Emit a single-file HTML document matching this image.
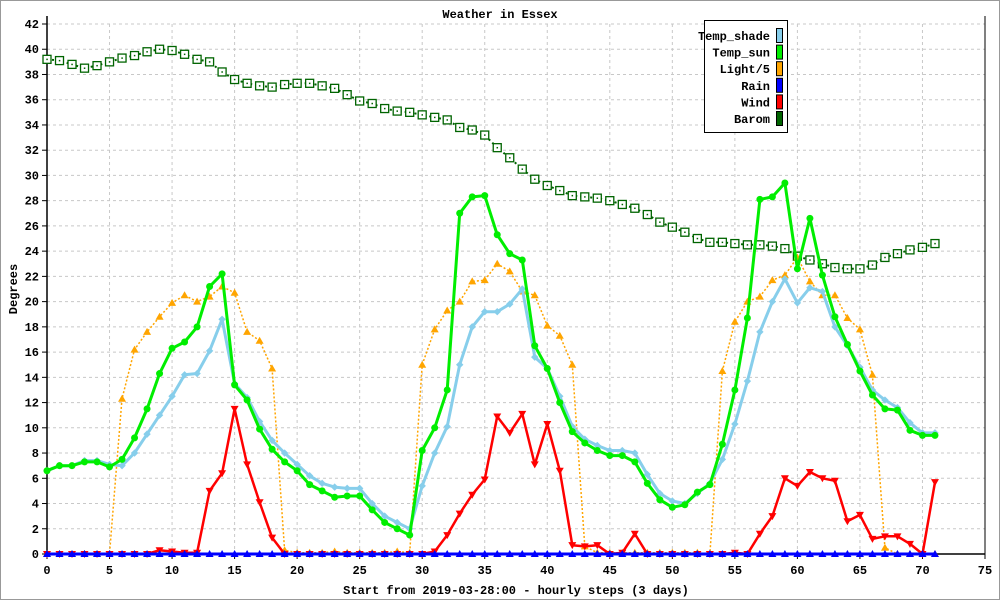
<!DOCTYPE html>
<html><head><meta charset="utf-8"><style>
html,body{margin:0;padding:0;background:#fff}
svg{display:block}
text{font-family:"Liberation Mono","DejaVu Sans Mono",monospace;font-size:12px;font-weight:bold;fill:#000}
</style></head><body>
<svg id="chart" width="1000" height="600">
<rect x="0.5" y="0.5" width="999" height="599" fill="#fff" stroke="#999"/>
<text x="500" y="18" text-anchor="middle" font-size="13">Weather in Essex</text>
<text transform="translate(17,289) rotate(-90)" text-anchor="middle">Degrees</text>
<text x="516" y="594" text-anchor="middle">Start from 2019-03-28:00 - hourly steps (3 days)</text>
<g id="grid"></g><g id="axes"></g><g id="series"></g>
<g>
<rect x="704.5" y="20.5" width="83" height="112" fill="#fff" stroke="#000"/>
<g id="legend"></g>
</g>
</svg>
<script>
const xTicks=[0,5,10,15,20,25,30,35,40,45,50,55,60,65,70,75];
const yTicks=[0,2,4,6,8,10,12,14,16,18,20,22,24,26,28,30,32,34,36,38,40,42];
const tempShade=[6.6,7.0,7.0,7.4,7.4,7.1,7.0,8.0,9.5,11.0,12.5,14.2,14.3,16.1,18.6,13.5,12.4,10.5,9.0,8.0,7.1,6.2,5.6,5.3,5.2,5.2,4.0,3.0,2.5,2.0,5.4,8.0,10.1,15.0,18.0,19.2,19.2,19.8,21.0,15.6,14.7,12.5,10.1,9.1,8.6,8.2,8.2,8.0,6.3,4.8,4.2,4.0,4.8,5.6,7.5,10.3,13.7,17.6,20.0,21.8,19.9,21.1,20.8,18.0,16.5,14.8,13.0,12.2,11.6,10.4,9.6,9.6];
const tempSun=[6.6,7.0,7.0,7.3,7.3,6.9,7.5,9.2,11.5,14.3,16.3,16.8,18.0,21.2,22.2,13.4,12.2,9.9,8.3,7.3,6.6,5.5,5.0,4.5,4.6,4.6,3.5,2.5,2.0,1.5,8.2,10.0,13.0,27.0,28.3,28.4,25.3,23.8,23.3,16.5,14.7,12.0,9.7,8.8,8.2,7.8,7.8,7.3,5.6,4.3,3.7,3.9,4.9,5.5,8.7,13.0,18.7,28.1,28.3,29.4,22.6,26.6,22.1,18.8,16.6,14.5,12.6,11.5,11.4,9.8,9.4,9.4];
const light5=[0,0,0,0,0,0,12.3,16.2,17.6,18.8,19.9,20.5,20.0,20.4,21.2,20.7,17.6,16.9,14.7,0.3,0.1,0.1,0.1,0.2,0.1,0.1,0.1,0.1,0.2,0.1,15.0,17.8,19.3,20.0,21.6,21.7,23.0,22.4,20.8,20.5,18.1,17.3,15.0,0.6,0.1,0.1,0.1,0.1,0.1,0.1,0.1,0.1,0.1,0,14.5,18.4,20.0,20.4,21.7,22.1,23.5,21.6,20.5,20.5,18.7,17.8,14.2,0.5,0,0,0,0];
const rain=new Array(72).fill(0);
const wind=[0,0,0,0,0,0,0,0,0,0.3,0.2,0.1,0.1,5.0,6.4,11.5,7.1,4.1,1.3,0,0,0,0,0,0,0,0,0,0,0,0,0.2,1.5,3.2,4.7,5.9,10.9,9.6,11.1,7.1,10.3,6.6,0.7,0.6,0.7,0,0.1,1.6,0,0,0,0,0,0,0,0.1,0,1.6,3.0,6.0,5.4,6.5,6.0,5.8,2.6,3.1,1.2,1.4,1.4,0.8,0,5.7];
const barom=[39.2,39.1,38.8,38.5,38.7,39.0,39.3,39.5,39.8,40.0,39.9,39.6,39.2,39.0,38.2,37.6,37.3,37.1,37.0,37.2,37.3,37.3,37.1,36.9,36.4,35.9,35.7,35.3,35.1,35.0,34.8,34.6,34.4,33.8,33.6,33.2,32.2,31.4,30.5,29.7,29.2,28.8,28.4,28.3,28.2,28.0,27.7,27.4,26.9,26.3,25.9,25.5,25.0,24.7,24.7,24.6,24.5,24.5,24.4,24.2,23.6,23.3,23.0,22.7,22.6,22.6,22.9,23.5,23.8,24.1,24.3,24.6];

const NS='http://www.w3.org/2000/svg';
const X0=47,X1=985,Y0=554,Y1=24;
const xs=v=>X0+(X1-X0)*v/75;
const ys=v=>Y0-(Y0-Y1)*v/42;
function mk(tag,attrs,parent){const e=document.createElementNS(NS,tag);for(const k in attrs)e.setAttribute(k,attrs[k]);parent.appendChild(e);return e;}
const grid=document.getElementById('grid'),axes=document.getElementById('axes'),ser=document.getElementById('series'),leg=document.getElementById('legend');
yTicks.forEach(t=>{
  if(t>0){const l=mk('line',{x1:X0,x2:X1,y1:ys(t),y2:ys(t),stroke:'#c8c8c8','stroke-dasharray':'3,3'},grid);
  
  }
  mk('line',{x1:X0-5,x2:X0,y1:ys(t),y2:ys(t),stroke:'#000'},axes);
  const tx=mk('text',{x:X0-8,y:ys(t)+4,'text-anchor':'end'},axes);tx.textContent=t;
  
  
});
xTicks.forEach(t=>{
  if(t>0&&t<75){const l=mk('line',{x1:xs(t),x2:xs(t),y1:Y1,y2:Y0,stroke:'#c8c8c8','stroke-dasharray':'3,3'},grid);
  
  }
  mk('line',{x1:xs(t),x2:xs(t),y1:Y0,y2:Y0+5,stroke:'#000'},axes);
  const tx=mk('text',{x:xs(t),y:Y0+20,'text-anchor':'middle'},axes);tx.textContent=t;
  
  
});
mk('line',{x1:X0,x2:X0,y1:Y1-8,y2:Y0,stroke:'#000','stroke-width':1.5},axes);
mk('line',{x1:X0,x2:X1,y1:Y0,y2:Y0,stroke:'#000','stroke-width':1.5},axes);
mk('line',{x1:X1,x2:X1,y1:Y1-8,y2:Y0,stroke:'#000'},axes);

function marker(g,type,x,y,c){
  if(type==='circle')mk('circle',{cx:x,cy:y,r:3.5,fill:c},g);
  else if(type==='diamond')mk('path',{d:`M${x-3},${y}L${x},${y-3}L${x+3},${y}L${x},${y+3}Z`,fill:c,stroke:c},g);
  else if(type==='up')mk('path',{d:`M${x-4},${y+3}L${x},${y-4}L${x+4},${y+3}Z`,fill:c},g);
  else if(type==='down')mk('path',{d:`M${x-4},${y-3}L${x},${y+4}L${x+4},${y-3}Z`,fill:c},g);
  else if(type==='square'){mk('rect',{x:x-4,y:y-4,width:8,height:8,fill:'#fff',stroke:c,'stroke-width':1.3},g);mk('rect',{x:x-0.7,y:y-0.7,width:1.5,height:1.5,fill:c},g);}
}
function series(name,data,color,width,dash,type){
  const g=mk('g',{},ser);
  
  
  const pts=data.map((v,i)=>xs(i).toFixed(1)+','+ys(v).toFixed(1)).join(' ');
  const a={points:pts,fill:'none',stroke:color,'stroke-width':width,'stroke-linejoin':'round'};if(dash)a['stroke-dasharray']=dash;
  mk('polyline',a,g);
  data.forEach((v,i)=>marker(g,type,xs(i),ys(v),color));
}
series('series-barom',barom,'#006400',2,'2,3','square');
series('series-light',light5,'#FFA500',1.5,'2,2','up');
series('series-temp-shade',tempShade,'#87CEEB',3,null,'diamond');
series('series-temp-sun',tempSun,'#00EE00',3,null,'circle');
series('series-wind',wind,'#FF0000',2.5,null,'down');
series('series-rain',rain,'#0000FF',3,null,'up');

const legItems=[['Temp_shade','#87CEEB'],['Temp_sun','#00EE00'],['Light/5','#FFA500'],['Rain','#0000FF'],['Wind','#FF0000'],['Barom','#006400']];
legItems.forEach((it,i)=>{
  const y=36+i*16.6;
  const t=mk('text',{x:770,y:y+4,'text-anchor':'end','font-size':'10','font-weight':'normal'},leg);t.textContent=it[0];
  
  
  const r=mk('rect',{x:776.5,y:y-7.5,width:6,height:14,fill:it[1],stroke:'#000'},leg);
  
  
});
</script>
</body></html>
